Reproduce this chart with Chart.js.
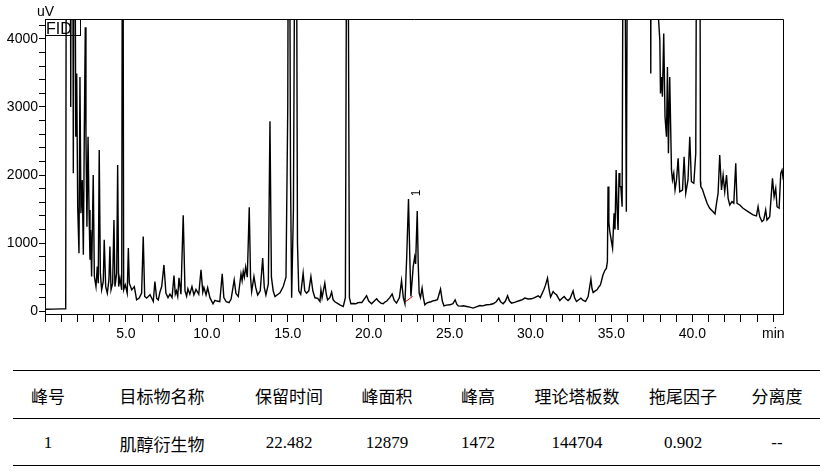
<!DOCTYPE html>
<html lang="zh-CN">
<head>
<meta charset="utf-8">
<script src="https://cdn.jsdelivr.net/npm/chart.js@4.4.0/dist/chart.umd.min.js"></script>
<style>
  body { margin: 0; background: #fff; width: 839px; height: 472px; overflow: hidden; position: relative; }
  #wrap { position: absolute; left: 0; top: 0; width: 839px; height: 340px; }
  .rule { position: absolute; left: 13px; width: 807px; height: 0; border-top: 1px solid #000; }
  .cell { position: absolute; transform: translate(-50%, -50%); white-space: nowrap; color: #000; font-weight: normal; }
  .head { font-family: "Noto Sans CJK TC", "Noto Sans CJK SC", sans-serif; font-size: 17px; }
  .val { font-family: "Liberation Serif", "Noto Sans CJK SC", serif; font-size: 17px; }
</style>
</head>
<body>
<div id="wrap"><canvas id="chromato"></canvas></div>
<div id="table"></div>
<script>
// Tiempo de retención (min) y señal FID (uV), leídos del cromatograma
// valores 9000 = picos que se salen por arriba
const retentionTime = [
  0, 0.5, 1.0, 1.28, 1.33, 1.55, 1.59, 1.64, 1.69, 1.75,
  1.81, 1.90, 1.96, 2.02, 2.10, 2.16, 2.22, 2.30, 2.37, 2.43,
  2.49, 2.53, 2.59, 2.66, 2.72, 2.78, 2.82, 2.88, 2.98, 3.05,
  3.15, 3.23, 3.29, 3.35, 3.42, 3.50, 3.60, 3.66, 3.75, 3.85,
  3.95, 4.01, 4.08, 4.18, 4.26, 4.32, 4.43, 4.49, 4.55, 4.63,
  4.74, 4.80, 4.86, 4.96,
  5.08, 5.15, 5.21, 5.36, 5.52, 5.66, 5.82, 5.97, 6.07, 6.16,
  6.28, 6.49, 6.69, 6.79, 6.90, 7.00, 7.10, 7.21, 7.35, 7.47,
  7.60, 7.72, 7.85, 7.97, 8.05, 8.12, 8.20, 8.28, 8.40, 8.54,
  8.65, 8.75, 8.83, 8.95, 9.08, 9.20, 9.33, 9.50, 9.64, 9.75,
  9.82, 9.95,
  10.05, 10.19, 10.38, 10.50, 10.62, 10.80, 10.95, 11.05, 11.20, 11.37,
  11.50, 11.69, 11.80, 11.94, 12.11, 12.18, 12.25, 12.32, 12.40, 12.50,
  12.62, 12.70, 12.77, 12.91, 13.02, 13.14, 13.30, 13.45, 13.55, 13.65,
  13.80, 13.90, 13.99, 14.10, 14.21, 14.40, 14.52, 14.72, 14.89, 15.00,
  15.07, 15.17, 15.24, 15.35, 15.50, 15.60, 15.68, 15.80, 15.95, 16.05,
  16.16, 16.30, 16.43, 16.55, 16.68, 16.85, 16.99, 17.05, 17.12, 17.29,
  17.38, 17.46, 17.60, 17.71, 17.80, 17.91, 18.05, 18.22, 18.43, 18.56,
  18.68, 18.81, 18.90, 19.05, 19.20, 19.33, 19.45, 19.58, 19.70, 19.87,
  20.00, 20.18, 20.30, 20.49, 20.60, 20.75, 20.90, 21.00, 21.12, 21.30,
  21.45, 21.58, 21.72, 21.90, 22.03, 22.14, 22.24, 22.35, 22.46, 22.55,
  22.61, 22.70, 22.75, 22.84, 22.90, 23.00, 23.06, 23.12, 23.20, 23.30,
  23.38, 23.47, 23.58, 23.68, 23.85, 24.00, 24.09, 24.25, 24.44, 24.55,
  24.65, 24.80,
  25.02, 25.20, 25.34, 25.45, 25.53, 25.70, 25.85, 26.05, 26.25, 26.45,
  26.65, 26.87, 27.05, 27.28, 27.50, 27.69, 27.88, 28.04, 28.15, 28.31,
  28.45, 28.58, 28.70, 28.83, 29.05, 29.34, 29.50, 29.65, 29.85, 30.06,
  30.25, 30.47, 30.60, 30.82, 30.92, 31.05, 31.14, 31.24, 31.40, 31.50,
  31.61, 31.81, 31.95, 32.08, 32.20, 32.32, 32.45, 32.63, 32.72, 32.84,
  32.98, 33.11, 33.25, 33.40, 33.56, 33.73, 33.80, 33.87, 34.00, 34.11,
  34.20, 34.32, 34.48, 34.59, 34.69, 34.75, 34.79, 34.84, 34.90, 35.07,
  35.16, 35.22, 35.29, 35.35, 35.41, 35.47, 35.52, 35.58, 35.66, 35.76,
  35.92, 36.04, 36.60, 37.20, 37.39, 37.43, 37.47, 37.70, 37.88, 37.99,
  38.03, 38.09, 38.15, 38.23, 38.31, 38.40, 38.46, 38.52, 38.60, 38.71,
  38.77, 38.85, 38.93, 39.02, 39.12, 39.22, 39.39, 39.49, 39.59, 39.73,
  39.84, 39.94, 40.09, 40.21, 40.30, 40.44, 40.50,
  40.52, 40.62, 40.77, 40.91, 41.07, 41.28, 41.40, 41.49, 41.59, 41.69, 41.80, 41.90,
  42.00, 42.11, 42.21, 42.31, 42.45, 42.56, 42.68, 42.76, 42.93, 43.13,
  43.44, 43.75, 43.96, 44.06, 44.16, 44.30, 44.41, 44.53, 44.61, 44.78,
  44.95, 45.05, 45.15, 45.23, 45.36, 45.46, 45.54, 45.62
];
const signal = [
  30, 32, 35, 35, 9000, 9000, 3000, 9000, 9000, 2025,
  9000, 2560, 3490, 1535, 853, 3440, 1440, 1927, 828, 2660,
  4170, 2610, 1242, 2560, 1487, 755, 1194, 510, 2000, 510,
  363, 656, 413, 2366, 560, 315, 437, 1048, 363, 266,
  460, 950, 315, 413, 1340, 363, 560, 2146, 363, 486,
  315, 9000, 315, 388,
  266, 930, 413, 315, 363, 168, 193, 266, 1096, 217,
  193, 242, 144, 437, 190, 168, 280, 363, 680, 266,
  200, 250, 200, 525, 250, 300, 220, 490, 250, 1410,
  300, 220, 330, 250, 363, 240, 320, 250, 610, 280,
  350, 240,
  345, 200, 110, 160, 150, 140, 550, 200, 140, 125,
  180, 460, 260, 217, 550, 450, 585, 500, 650, 500,
  1527, 500, 290, 510, 350, 240, 300, 780, 350, 240,
  400, 2790, 500, 300, 217, 250, 270, 363, 500, 3000,
  9000, 2000, 200, 1500, 9000, 1000, 300, 250, 560, 300,
  266, 300, 510, 300, 198, 190, 144, 315, 200, 413,
  250, 168, 200, 281, 170, 139, 120, 95, 70, 200,
  9000, 200, 110, 115, 110, 125, 130, 129, 170, 227,
  150, 110, 140, 183, 150, 120, 110, 135, 150, 200,
  252, 160, 120, 200, 450, 200, 110, 800, 1648, 700,
  217, 500, 656, 794, 696, 1473, 700, 266, 200, 340,
  200, 95, 120, 129, 140, 155, 158, 170, 325, 150,
  80, 90,
  95, 110, 168, 100, 80, 75, 80, 70, 60, 47,
  65, 85, 80, 95, 100, 110, 140, 193, 140, 110,
  150, 227, 150, 120, 135, 158, 170, 193, 180, 183,
  200, 227, 200, 315, 380, 486, 330, 208, 290, 260,
  242, 158, 190, 217, 180, 158, 190, 300, 200, 144,
  170, 193, 160, 144, 217, 472, 330, 275, 300, 315,
  350, 388, 535, 598, 633, 730, 1830, 1300, 1170, 926,
  1440, 1200, 2073, 1500, 1194, 2030, 1830, 1830, 1535, 9000,
  1462, 9000, 9000, 9000, 9000, 3490, 9000, 9000, 4400, 3978,
  3197, 3440, 3148, 4076, 2855, 2561, 3587, 2318, 3440, 2073,
  1927, 2025, 1780, 1927, 2245, 1755, 1780, 2268, 1732, 1927,
  2561, 1902, 1878, 2318, 9000, 9000, 1900,
  1830, 1790, 1682, 1585, 1512, 1462, 1430, 1585, 1732, 2293, 1780, 2000,
  1755, 2000, 1658, 1560, 1609, 1585, 2171, 1585, 1560, 1512,
  1462, 1414, 1399, 1535, 1389, 1316, 1340, 1487, 1340, 1389,
  1951, 1682, 1805, 1535, 1512, 2025, 2073, 1927
];

// Línea base de integración del pico 1 (roja)
const baselineTime = [22.24, 22.71];
const baselineValue = [135, 217];

// Etiqueta del pico
const peakNames = ["1"];
const peakTimes = [22.46];
const peakHeights = [1648];

// Ejes
const xLabelValues = [5, 10, 15, 20, 25, 30, 35, 40, 45];
const xLabels = ["5.0", "10.0", "15.0", "20.0", "25.0", "30.0", "35.0", "40.0", "min"];
const yLabelValues = [0, 1000, 2000, 3000, 4000];
const yLabels = ["0", "1000", "2000", "3000", "4000"];

// Tabla de resultados
const tableHeaders = ["峰号", "目标物名称", "保留时间", "峰面积", "峰高", "理论塔板数", "拖尾因子", "分离度"];
const tableRow = ["1", "肌醇衍生物", "22.482", "12879", "1472", "144704", "0.902", "--"];

// Tabla en HTML
const colCenters = [48, 162, 289, 387, 478, 577, 683, 777];
const tbl = document.getElementById("table");
[370, 418, 465].forEach((y) => {
  const r = document.createElement("div");
  r.className = "rule";
  r.style.top = y + "px";
  tbl.appendChild(r);
});
tableHeaders.forEach((h, i) => {
  const c = document.createElement("div");
  c.className = "cell head";
  c.style.left = colCenters[i] + "px";
  c.style.top = "395px";
  c.textContent = h;
  tbl.appendChild(c);
});
tableRow.forEach((v, i) => {
  const c = document.createElement("div");
  c.className = "cell val";
  c.style.left = colCenters[i] + "px";
  c.style.top = "443px";
  c.textContent = v;
  tbl.appendChild(c);
});

// Marco, caja FID, unidad y número de pico
const decor = {
  id: "decor",
  afterDraw(chart) {
    const { ctx, chartArea: a, scales } = chart;
    ctx.save();
    ctx.strokeStyle = "#000";
    ctx.lineWidth = 1;
    ctx.beginPath();
    ctx.moveTo(a.left, a.top + 0.5);
    ctx.lineTo(a.right + 0.5, a.top + 0.5);
    ctx.lineTo(a.right + 0.5, a.bottom);
    ctx.stroke();
    ctx.strokeRect(a.left + 0.5, a.top + 0.5, 35, 16);
    ctx.fillStyle = "#000";
    ctx.font = "16px 'Liberation Sans', Arial, sans-serif";
    ctx.textBaseline = "alphabetic";
    ctx.textAlign = "left";
    ctx.fillText("FID", a.left + 1, a.top + 15);
    ctx.font = "14px 'Liberation Sans', Arial, sans-serif";
    ctx.fillText("uV", 37, 16);
    ctx.font = "12px 'Liberation Sans', Arial, sans-serif";
    peakNames.forEach((n, i) => {
      const px = scales.x.getPixelForValue(peakTimes[i]) + 8;
      const py = scales.y.getPixelForValue(peakHeights[i]) - 6;
      ctx.save();
      ctx.translate(px, py);
      ctx.rotate(-Math.PI / 2);
      ctx.textAlign = "center";
      ctx.textBaseline = "middle";
      ctx.fillText(n, 0, 0);
      ctx.restore();
    });
    ctx.restore();
  },
};

const ctx = document.getElementById("chromato").getContext("2d");
const chart = new Chart(ctx, {
  type: "line",
  data: {
    datasets: [
      {
        data: retentionTime.map((t, i) => ({ x: t, y: signal[i] })),
        borderColor: "#000",
        borderWidth: 1.4,
        pointRadius: 0,
        tension: 0,
      },
      {
        data: baselineTime.map((t, i) => ({ x: t, y: baselineValue[i] })),
        borderColor: "#e00000",
        borderWidth: 1,
        pointRadius: 0,
      },
    ],
  },
  options: {
    responsive: true,
    maintainAspectRatio: false,
    animation: false,
    layout: { padding: { top: 19, right: 56, left: 0, bottom: 0 } },
    plugins: { legend: { display: false }, tooltip: { enabled: false } },
    scales: {
      x: {
        type: "linear",
        min: 0,
        max: 45.6,
        afterFit: (s) => { s.height = 26; },
        afterBuildTicks: (s) => {
          const t = [];
          for (let v = 0; v <= 45; v++) t.push({ value: v });
          s.ticks = t;
        },
        ticks: {
          autoSkip: false,
          maxRotation: 0,
          padding: 4,
          color: "#000",
          font: { family: "'Liberation Sans', Arial, sans-serif", size: 14 },
          callback: (v) => {
            const k = xLabelValues.indexOf(v);
            return k >= 0 ? xLabels[k] : "";
          },
        },
        grid: { drawOnChartArea: false, tickLength: 8, color: "#000" },
        border: { color: "#000", width: 1 },
      },
      y: {
        min: -40,
        max: 4290,
        afterFit: (s) => { s.width = 45; },
        afterBuildTicks: (s) => {
          const t = [];
          for (let v = 0; v <= 4200; v += 200) t.push({ value: v });
          s.ticks = t;
        },
        ticks: {
          autoSkip: false,
          padding: 1,
          color: "#000",
          font: { family: "'Liberation Sans', Arial, sans-serif", size: 14 },
          callback: (v) => {
            const k = yLabelValues.indexOf(v);
            return k >= 0 ? yLabels[k] : "";
          },
        },
        grid: { drawOnChartArea: false, tickLength: 6, color: "#000" },
        border: { color: "#000", width: 1 },
      },
    },
  },
  plugins: [decor],
});
</script>
</body>
</html>
